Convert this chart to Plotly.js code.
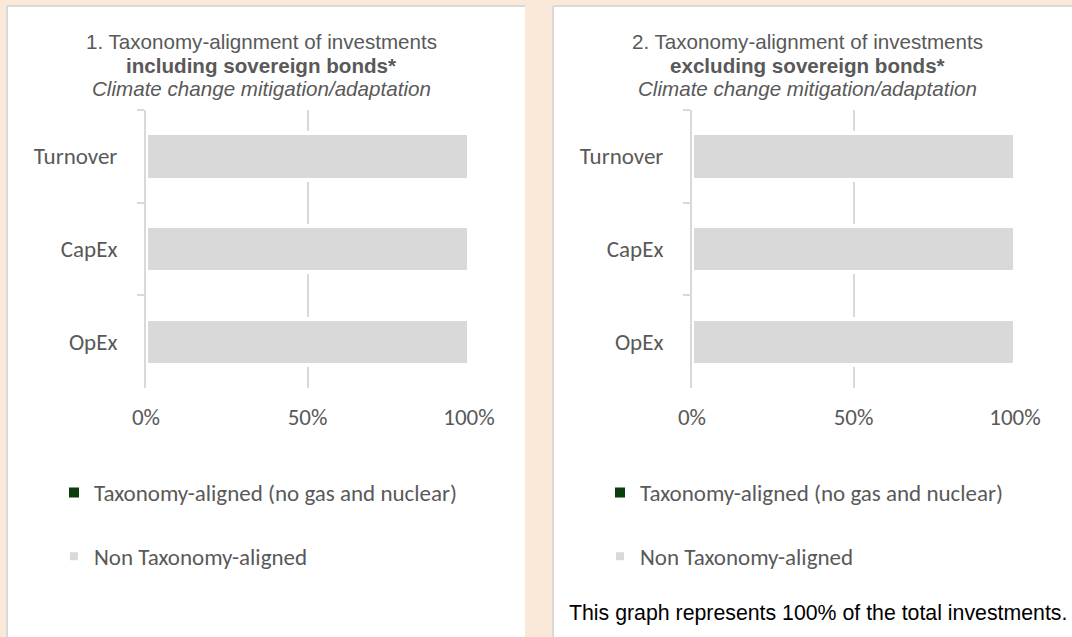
<!DOCTYPE html>
<html>
<head>
<meta charset="utf-8">
<script src="https://cdn.plot.ly/plotly-3.0.1.min.js"></script>
<style>html,body{margin:0;padding:0;background:#FAE8D8;}#chart{width:1072px;height:637px;}</style>
</head>
<body>
<div id="chart"></div>
<script>
// ---- data ----
const categories = ['Turnover', 'CapEx', 'OpEx'];
const seriesNames = ['Taxonomy-aligned (no gas and nuclear)', 'Non Taxonomy-aligned'];
const alignedInclSovereign = [0, 0, 0];
const nonAlignedInclSovereign = [100, 100, 100];
const alignedExclSovereign = [0, 0, 0];
const nonAlignedExclSovereign = [100, 100, 100];
const tickValues = [0, 50, 100];
const tickLabels = ['0%', '50%', '100%'];
const titleLine1 = ['1. Taxonomy-alignment of investments', '2. Taxonomy-alignment of investments'];
const titleLine2 = ['including sovereign bonds*', 'excluding sovereign bonds*'];
const titleLine3 = 'Climate change mitigation/adaptation';
const footerText = 'This graph represents 100% of the total investments.';

// ---- styling ----
const W = 1072, H = 637;
const px = v => v / W;
const py = v => 1 - v / H;
const green = '#0b3d0f';
const grey = '#d9d9d9';
const textGrey = '#595959';
const calibriLike = 'Carlito, Lato, sans-serif';
const arialLike = 'Arial, "Liberation Sans", sans-serif';
const offset = 546;

function traces(aligned, nonAligned, xa, ya, leg) {
  return [
    {type: 'bar', orientation: 'h', name: seriesNames[0], y: categories, x: aligned,
     xaxis: xa, yaxis: ya, legend: leg, legendgroup: leg + 'a',
     marker: {color: green, line: {color: '#ffffff', width: 2}}, hoverinfo: 'skip'},
    {type: 'bar', orientation: 'h', name: seriesNames[1], y: categories, x: nonAligned,
     xaxis: xa, yaxis: ya, legend: leg, legendgroup: leg + 'b',
     marker: {color: grey, line: {color: '#ffffff', width: 4}}, hoverinfo: 'skip'}
  ];
}

const data = [
  ...traces(alignedInclSovereign, nonAlignedInclSovereign, 'x', 'y', 'legend'),
  ...traces(alignedExclSovereign, nonAlignedExclSovereign, 'x2', 'y2', 'legend2')
];

function xAxis(x0, x1, anchor) {
  return {domain: [px(x0), px(x1)], range: [0, 100], anchor: anchor,
    tickvals: tickValues, ticktext: tickLabels, showgrid: true, gridcolor: grey, gridwidth: 2,
    zeroline: false, showline: false, ticks: '', ticklabelstandoff: 13,
    tickfont: {family: calibriLike, size: 23, color: textGrey}, fixedrange: true};
}
function yAxis(anchor) {
  return {domain: [py(388), py(110)], type: 'category', autorange: 'reversed', anchor: anchor,
    showline: true, linecolor: grey, linewidth: 2, ticks: 'outside', ticklen: 7, tickwidth: 2,
    tickcolor: grey, tickson: 'boundaries', showgrid: false, zeroline: false,
    ticklabelstandoff: 22, tickfont: {family: calibriLike, size: 23, color: textGrey}, fixedrange: true};
}

const annotations = [];
[0, 1].forEach(i => {
  const cx = 261 + i * offset;
  annotations.push({xref: 'paper', yref: 'paper', x: px(cx), y: py(42), xanchor: 'center', yanchor: 'middle',
    text: titleLine1[i], showarrow: false, font: {family: arialLike, size: 20.6, color: textGrey}});
  annotations.push({xref: 'paper', yref: 'paper', x: px(cx), y: py(65), xanchor: 'center', yanchor: 'middle',
    text: '<b>' + titleLine2[i] + '</b>', showarrow: false, font: {family: arialLike, size: 20.6, color: textGrey}});
  annotations.push({xref: 'paper', yref: 'paper', x: px(cx), y: py(88), xanchor: 'center', yanchor: 'middle',
    text: '<i>' + titleLine3 + '</i>', showarrow: false, font: {family: arialLike, size: 20.6, color: textGrey}});
});
annotations.push({xref: 'paper', yref: 'paper', x: px(567), y: py(613), xanchor: 'left', yanchor: 'middle',
  text: footerText, showarrow: false, font: {family: arialLike, size: 21.3, color: '#000000'}});

const shapes = [
  {type: 'rect', xref: 'paper', yref: 'paper', x0: px(7), x1: px(525), y0: -0.02, y1: py(6), layer: 'below',
   fillcolor: '#ffffff', line: {width: 0}},
  {type: 'rect', xref: 'paper', yref: 'paper', x0: px(553), x1: 1.02, y0: -0.02, y1: py(6), layer: 'below',
   fillcolor: '#ffffff', line: {width: 0}},
  {type: 'line', xref: 'paper', yref: 'paper', x0: px(7), x1: px(525), y0: py(6), y1: py(6), layer: 'below', line: {color: grey, width: 2}},
  {type: 'line', xref: 'paper', yref: 'paper', x0: px(7), x1: px(7), y0: -0.02, y1: py(6), layer: 'below', line: {color: grey, width: 2}},
  {type: 'line', xref: 'paper', yref: 'paper', x0: px(553), x1: 1.02, y0: py(6), y1: py(6), layer: 'below', line: {color: grey, width: 2}},
  {type: 'line', xref: 'paper', yref: 'paper', x0: px(553), x1: px(553), y0: -0.02, y1: py(6), layer: 'below', line: {color: grey, width: 2}}
];

function legendCfg(x) {
  return {x: px(x), xanchor: 'left', y: py(471), yanchor: 'top', bgcolor: 'rgba(0,0,0,0)',
    font: {family: calibriLike, size: 23, color: textGrey}, traceorder: 'grouped', tracegroupgap: 31,
    itemclick: false, itemdoubleclick: false};
}

const layout = {
  width: W, height: H, margin: {l: 0, r: 0, t: 0, b: 0},
  paper_bgcolor: '#FAE8D8', plot_bgcolor: 'rgba(0,0,0,0)',
  barmode: 'stack', bargap: 0.5, showlegend: true,
  xaxis: xAxis(146, 469, 'y'), yaxis: yAxis('x'),
  xaxis2: xAxis(146 + offset, 469 + offset, 'y2'), yaxis2: yAxis('x2'),
  legend: legendCfg(54), legend2: legendCfg(54 + offset),
  annotations: annotations, shapes: shapes
};

Plotly.newPlot('chart', data, layout, {displayModeBar: false, staticPlot: true});
</script>
</body>
</html>
